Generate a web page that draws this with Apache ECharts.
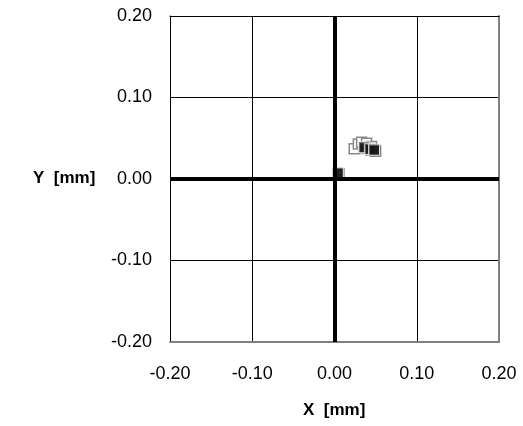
<!DOCTYPE html>
<html><head><meta charset="utf-8">
<script src="https://cdn.jsdelivr.net/npm/echarts@6/dist/echarts.min.js"></script>
<style>html,body{margin:0;padding:0;background:#fff}#c{width:523px;height:426px}</style>
</head><body><div id="c"></div>
<script>
var xTicks = [-0.2, -0.1, 0, 0.1, 0.2];
var yTicks = [-0.2, -0.1, 0, 0.1, 0.2];
var rearX = [0.024, 0.029, 0.033, 0.039, 0.045, 0.050];
var rearY = [0.037, 0.043, 0.045, 0.044, 0.040, 0.034];
var frontX = [0.004, 0.036, 0.043, 0.048];
var frontY = [0.0075, 0.039, 0.037, 0.036];
var xName = 'X  [mm]';
var yName = 'Y  [mm]';

function pairs(xs, ys){ return xs.map(function(v,i){return [v, ys[i]];}); }
var font = 'Liberation Sans, Arial, sans-serif';
var chart = echarts.init(document.getElementById('c'));
chart.setOption({
  animation:false,
  grid:{left:170, top:16, width:329, height:326},
  xAxis:[{
    type:'value', min:-0.2, max:0.2, interval:0.1, position:'bottom',
    axisLine:{show:true, onZero:false, lineStyle:{color:'#808080', width:2}},
    axisTick:{show:false},
    splitLine:{show:true, lineStyle:{color:'#000', width:1}},
    axisLabel:{margin:23, fontSize:18, color:'#000', fontFamily:font,
      formatter:function(v){return v.toFixed(2);}}
  },{
    type:'value', min:-0.2, max:0.2, position:'top',
    axisLine:{show:true, onZero:false, lineStyle:{color:'#000', width:1}},
    axisTick:{show:false}, axisLabel:{show:false}, splitLine:{show:false}
  }],
  yAxis:[{
    type:'value', min:-0.2, max:0.2, interval:0.1, position:'left',
    axisLine:{show:true, onZero:false, lineStyle:{color:'#000', width:1}},
    axisTick:{show:false},
    splitLine:{show:true, lineStyle:{color:'#000', width:1}},
    axisLabel:{margin:18, fontSize:18, color:'#000', fontFamily:font,
      formatter:function(v){return v.toFixed(2);}}
  },{
    type:'value', min:-0.2, max:0.2, position:'right',
    axisLine:{show:true, onZero:false, lineStyle:{color:'#808080', width:2}},
    axisTick:{show:false}, axisLabel:{show:false}, splitLine:{show:false}
  }],
  graphic:[
    {type:'text', left:33, top:170, style:{text:yName, font:'bold 17px '+font, fill:'#000'}},
    {type:'text', left:303, top:402, style:{text:xName, font:'bold 17px '+font, fill:'#000'}}
  ],
  series:[{
    type:'scatter', symbol:'rect', symbolSize:10,
    data:pairs(rearX, rearY),
    itemStyle:{color:'#fff', borderColor:'#888', borderWidth:1.5, opacity:1},
    markLine:{silent:true, symbol:'none', label:{show:false},
      lineStyle:{color:'#000', width:4, type:'solid'},
      data:[{xAxis:0},{yAxis:0}]},
    z:3
  },{
    type:'scatter', symbol:'rect', symbolSize:11,
    data:pairs(frontX, frontY),
    itemStyle:{color:'#000', borderColor:'#fff', borderWidth:1,
      shadowColor:'#888', shadowOffsetX:1, shadowOffsetY:1, shadowBlur:0},
    z:4
  }]
});
</script></body></html>
